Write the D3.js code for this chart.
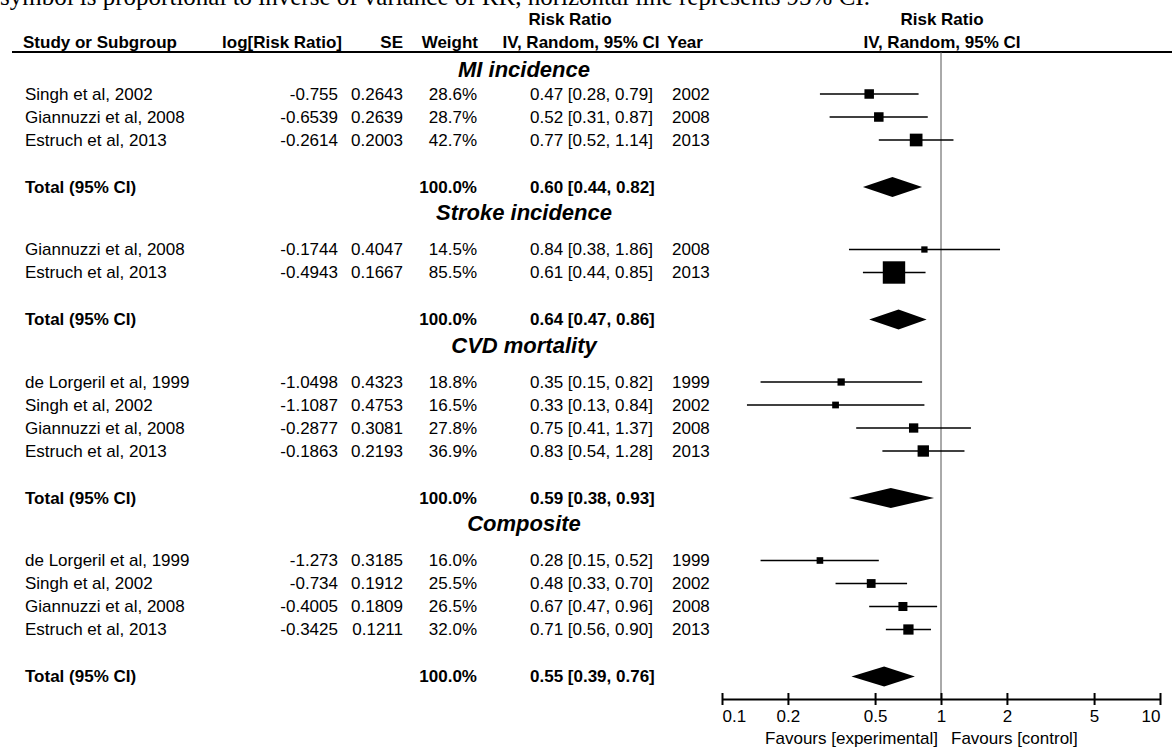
<!DOCTYPE html>
<html>
<head>
<meta charset="utf-8">
<script src="https://cdn.jsdelivr.net/npm/d3@7"></script>
<style>
  body { margin: 0; background: #fff; }
  svg { display: block; font-family: "Liberation Sans", Arial, sans-serif; }
</style>
</head>
<body>
<svg id="chart" width="1172" height="749"></svg>
<script>
// data
const groupNames = ['MI incidence', 'Stroke incidence', 'CVD mortality', 'Composite'];
const studyNames = [
    ['Singh et al, 2002', 'Giannuzzi et al, 2008', 'Estruch et al, 2013'],
    ['Giannuzzi et al, 2008', 'Estruch et al, 2013'],
    ['de Lorgeril et al, 1999', 'Singh et al, 2002', 'Giannuzzi et al, 2008', 'Estruch et al, 2013'],
    ['de Lorgeril et al, 1999', 'Singh et al, 2002', 'Giannuzzi et al, 2008', 'Estruch et al, 2013']
];
const logRR = [
    ['-0.755', '-0.6539', '-0.2614'],
    ['-0.1744', '-0.4943'],
    ['-1.0498', '-1.1087', '-0.2877', '-0.1863'],
    ['-1.273', '-0.734', '-0.4005', '-0.3425']
];
const seVals = [
    ['0.2643', '0.2639', '0.2003'],
    ['0.4047', '0.1667'],
    ['0.4323', '0.4753', '0.3081', '0.2193'],
    ['0.3185', '0.1912', '0.1809', '0.1211']
];
const weights = [
    [28.6, 28.7, 42.7],
    [14.5, 85.5],
    [18.8, 16.5, 27.8, 36.9],
    [16.0, 25.5, 26.5, 32.0]
];
const riskRatio = [
    [0.47, 0.52, 0.77],
    [0.84, 0.61],
    [0.35, 0.33, 0.75, 0.83],
    [0.28, 0.48, 0.67, 0.71]
];
const ciLow = [
    [0.28, 0.31, 0.52],
    [0.38, 0.44],
    [0.15, 0.13, 0.41, 0.54],
    [0.15, 0.33, 0.47, 0.56]
];
const ciHigh = [
    [0.79, 0.87, 1.14],
    [1.86, 0.85],
    [0.82, 0.84, 1.37, 1.28],
    [0.52, 0.70, 0.96, 0.90]
];
const years = [
    [2002, 2008, 2013],
    [2008, 2013],
    [1999, 2002, 2008, 2013],
    [1999, 2002, 2008, 2013]
];
const totalRR = [0.60, 0.64, 0.59, 0.55];
const totalLow = [0.44, 0.47, 0.38, 0.39];
const totalHigh = [0.82, 0.86, 0.93, 0.76];
const axisTicks = [0.1, 0.2, 0.5, 1, 2, 5, 10];

const svg = d3.select('#chart');

let x = d3.scaleLog().domain([0.1, 10]).range([722, 1160]),
    boxSize = d3.scaleLinear().domain([0, 100]).range([3, 25.7]),
    axisY = 699;

const f2 = d3.format('.2f');
const ciText = (r, lo, hi) => `${f2(r)} [${f2(lo)}, ${f2(hi)}]`;

function text(str, px, py, opts = {}) {
    return svg.append('text')
        .attr('x', px).attr('y', py).attr('dy', opts.dy || '0.35em')
        .attr('text-anchor', opts.anchor || 'start')
        .style('font-size', (opts.size || 17) + 'px')
        .style('font-weight', opts.bold ? 'bold' : 'normal')
        .style('font-style', opts.italic ? 'italic' : 'normal')
        .style('font-family', opts.family || null)
        .text(str);
}

// caption of the source figure, cut off by the top edge
text('symbol is proportional to inverse of variance of RR, horizontal line represents 95% CI.', 0, 5,
    {size: 25, dy: '0', family: '"Liberation Serif", "Times New Roman", serif'});

// column headers
text('Risk Ratio', 570, 19, {bold: true, anchor: 'middle'});
text('Risk Ratio', 942, 19, {bold: true, anchor: 'middle'});
text('Study or Subgroup', 23, 42, {bold: true});
text('log[Risk Ratio]', 342, 42, {bold: true, anchor: 'end'});
text('SE', 403, 42, {bold: true, anchor: 'end'});
text('Weight', 478, 42, {bold: true, anchor: 'end'});
text('IV, Random, 95% CI', 581, 42, {bold: true, anchor: 'middle'});
text('Year', 667, 42, {bold: true});
text('IV, Random, 95% CI', 942, 42, {bold: true, anchor: 'middle'});

svg.append('line').attr('x1', 12).attr('x2', 1172).attr('y1', 52).attr('y2', 52)
    .attr('stroke', '#000').attr('stroke-width', 2);

// line of no effect
svg.append('line').attr('x1', x(1)).attr('x2', x(1)).attr('y1', 52).attr('y2', axisY)
    .attr('stroke', '#555').attr('stroke-width', 1);

let cursor = 69;
groupNames.forEach((g, gi) => {
    text(g, 524, cursor, {bold: true, italic: true, size: 22, anchor: 'middle'});
    let yRow = cursor + (gi === 0 ? 25 : 37);

    studyNames[gi].forEach((name, i) => {
        const y = yRow + i * 23;
        text(name, 25, y);
        text(logRR[gi][i], 338, y, {anchor: 'end'});
        text(seVals[gi][i], 403, y, {anchor: 'end'});
        text(weights[gi][i].toFixed(1) + '%', 477, y, {anchor: 'end'});
        text(ciText(riskRatio[gi][i], ciLow[gi][i], ciHigh[gi][i]), 530, y);
        text(years[gi][i], 672, y);

        svg.append('line')
            .attr('x1', x(ciLow[gi][i])).attr('x2', x(ciHigh[gi][i]))
            .attr('y1', y).attr('y2', y)
            .attr('stroke', '#000').attr('stroke-width', 1.5);
        const s = boxSize(weights[gi][i]);
        svg.append('rect')
            .attr('x', x(riskRatio[gi][i]) - s / 2).attr('y', y - s / 2)
            .attr('width', s).attr('height', s)
            .attr('fill', '#000');
    });

    const yTot = yRow + (studyNames[gi].length - 1) * 23 + 47;
    text('Total (95% CI)', 25, yTot, {bold: true});
    text('100.0%', 477, yTot, {bold: true, anchor: 'end'});
    text(ciText(totalRR[gi], totalLow[gi], totalHigh[gi]), 530, yTot, {bold: true});

    const pts = [
        [x(totalLow[gi]), yTot],
        [x(totalRR[gi]), yTot - 10],
        [x(totalHigh[gi]), yTot],
        [x(totalRR[gi]), yTot + 10]
    ];
    svg.append('path').attr('d', 'M' + pts.join('L') + 'Z').attr('fill', '#000');

    cursor = yTot + 25.5;
});

// axis
const axis = d3.axisBottom(x).tickValues(axisTicks).tickFormat(d => String(d))
    .tickSize(6).tickSizeOuter(0);
const ax = svg.append('g').attr('transform', `translate(0,${axisY})`).call(axis);
ax.select('.domain').attr('stroke-width', 2);
ax.selectAll('.tick line').attr('y1', -6).attr('y2', 6).attr('stroke-width', 2);
ax.selectAll('.tick text')
    .attr('y', 11).attr('dy', '0.71em')
    .style('font-size', '17px').style('font-family', '"Liberation Sans", Arial, sans-serif')
    .attr('fill', '#000')
    .attr('text-anchor', (d, i) => i === 0 ? 'start' : (i === axisTicks.length - 1 ? 'end' : 'middle'));

text('Favours [experimental]', 938, 738, {anchor: 'end'});
text('Favours [control]', 951, 738);
</script>
</body>
</html>
